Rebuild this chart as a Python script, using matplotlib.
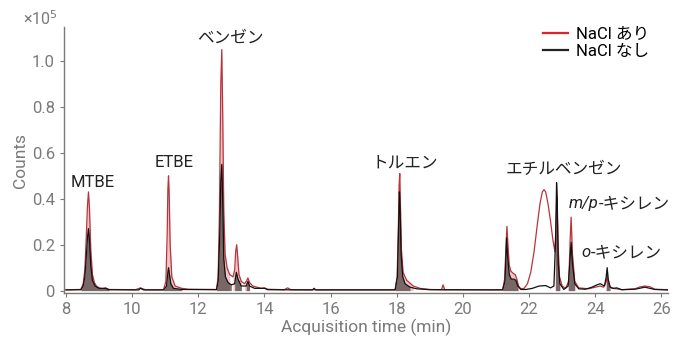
import matplotlib
matplotlib.use("Agg")
from matplotlib import pyplot as plt
from matplotlib.lines import Line2D
import numpy as np

plt.rcParams['font.family'] = ['Roboto', 'Noto Sans CJK JP', 'DejaVu Sans']

# chromatogram traces (time in min, counts in 1e5)
t_salt = [8.0, 8.45, 8.52, 8.57, 8.61, 8.65, 8.68, 8.71, 8.75, 8.80, 8.86, 8.92, 9.0, 9.1, 9.2, 9.3,
          10.1, 10.25, 10.4, 10.95, 11.02, 11.06, 11.08, 11.10, 11.12, 11.15, 11.2, 11.3, 11.5, 11.7,
          12.55, 12.60, 12.64, 12.68, 12.71, 12.74, 12.77, 12.81, 12.87, 12.95, 13.05, 13.10, 13.13,
          13.16, 13.19, 13.23, 13.3, 13.4, 13.45, 13.5, 13.55, 13.65, 13.9, 14.0, 14.1, 14.6, 14.7, 14.8,
          17.95, 18.01, 18.05, 18.07, 18.09, 18.11, 18.14, 18.19, 18.3, 18.5, 18.7, 19.0, 19.35,
          19.4, 19.45, 21.2, 21.26, 21.3, 21.33, 21.36, 21.40, 21.45, 21.52, 21.58, 21.63, 21.68,
          21.75, 21.85, 21.95, 22.05, 22.15, 22.25, 22.33, 22.40, 22.45, 22.50, 22.57, 22.65, 22.72,
          22.78, 22.82, 22.84, 22.87, 22.92, 23.0, 23.1, 23.2, 23.24, 23.27, 23.31, 23.38, 23.5,
          23.8, 24.0, 24.15, 24.25, 24.33, 24.36, 24.4, 24.5, 24.65, 24.8, 25.2, 25.35, 25.5,
          25.65, 25.8, 26.2]
c_salt = [0.004, 0.005, 0.03, 0.09, 0.22, 0.37, 0.43, 0.36, 0.18, 0.07, 0.035, 0.02, 0.012, 0.008, 0.012, 0.005,
          0.004, 0.012, 0.004, 0.004, 0.04, 0.25, 0.44, 0.50, 0.42, 0.20, 0.06, 0.02, 0.01, 0.006,
          0.005, 0.06, 0.35, 0.90, 1.05, 0.75, 0.35, 0.16, 0.10, 0.07, 0.06, 0.09, 0.17,
          0.20, 0.15, 0.07, 0.04, 0.03, 0.04, 0.055, 0.035, 0.02, 0.01, 0.012, 0.006, 0.004, 0.012, 0.004,
          0.004, 0.06, 0.30, 0.46, 0.51, 0.38, 0.18, 0.08, 0.045, 0.02, 0.01, 0.005, 0.004,
          0.025, 0.004, 0.004, 0.05, 0.19, 0.28, 0.20, 0.11, 0.085, 0.075, 0.07, 0.05, 0.02,
          0.008, 0.01, 0.03, 0.08, 0.17, 0.29, 0.38, 0.43, 0.44, 0.43, 0.38, 0.30, 0.22,
          0.17, 0.30, 0.41, 0.22, 0.06, 0.02, 0.01, 0.04, 0.22, 0.32, 0.16, 0.04, 0.012,
          0.008, 0.015, 0.02, 0.015, 0.04, 0.06, 0.025, 0.01, 0.008, 0.004, 0.008, 0.016, 0.02,
          0.017, 0.006, 0.004]

t_plain = [8.0, 8.45, 8.52, 8.57, 8.61, 8.65, 8.68, 8.71, 8.75, 8.80, 8.88, 9.0, 9.2, 9.3,
           10.2, 10.25, 10.35, 10.95, 11.04, 11.08, 11.10, 11.13, 11.17, 11.25, 11.5,
           12.55, 12.60, 12.65, 12.68, 12.71, 12.74, 12.77, 12.82, 12.9, 13.0, 13.1, 13.15, 13.2,
           13.3, 13.45, 13.5, 13.55, 13.7, 14.0, 14.1, 15.45, 15.5, 15.55,
           17.95, 18.02, 18.06, 18.08, 18.10, 18.13, 18.18, 18.25, 18.4, 18.6, 19.0,
           21.2, 21.27, 21.30, 21.32, 21.35, 21.40, 21.46, 21.54, 21.60, 21.66, 21.75, 21.9, 22.1,
           22.3, 22.5, 22.65, 22.75, 22.80, 22.83, 22.85, 22.88, 22.93, 23.05, 23.18, 23.23, 23.27,
           23.31, 23.38, 23.5, 23.7, 23.9, 24.05, 24.15, 24.28, 24.33, 24.36, 24.39, 24.45, 24.55, 24.65,
           24.8, 25.2, 25.5, 25.8, 26.2]
c_plain = [0.003, 0.004, 0.02, 0.06, 0.14, 0.23, 0.27, 0.22, 0.11, 0.045, 0.02, 0.01, 0.01, 0.004,
           0.003, 0.01, 0.003, 0.003, 0.02, 0.08, 0.10, 0.07, 0.03, 0.01, 0.005,
           0.004, 0.04, 0.25, 0.48, 0.55, 0.38, 0.14, 0.06, 0.035, 0.025, 0.03, 0.08, 0.05,
           0.02, 0.02, 0.04, 0.02, 0.01, 0.01, 0.004, 0.003, 0.01, 0.003,
           0.003, 0.06, 0.30, 0.43, 0.36, 0.16, 0.06, 0.03, 0.015, 0.008, 0.004,
           0.003, 0.04, 0.15, 0.23, 0.15, 0.07, 0.05, 0.05, 0.045, 0.02, 0.005, 0.005, 0.01,
           0.02, 0.022, 0.012, 0.02, 0.22, 0.47, 0.40, 0.12, 0.03, 0.005, 0.02, 0.12, 0.21,
           0.12, 0.03, 0.008, 0.006, 0.015, 0.025, 0.03, 0.02, 0.06, 0.10, 0.05, 0.015, 0.01, 0.012,
           0.004, 0.006, 0.015, 0.005, 0.003]

# integrated (shaded) peak windows
windows = [(8.45, 9.3), (10.95, 11.5), (12.55, 13.0), (13.05, 13.3), (13.4, 13.6),
           (17.95, 18.5), (19.35, 19.45), (21.2, 21.7), (22.76, 22.95),
           (23.15, 23.45), (24.3, 24.45)]

labels = [("MTBE", 8.82, 0.47), ("ETBE", 11.27, 0.556), ("ベンゼン", 12.96, 1.10),
          ("トルエン", 18.25, 0.556), ("エチルベンゼン", 23.06, 0.526)]
# (italic prefix, rest, split position, y)
xylene_labels = [("m/p", "-キシレン", 24.1, 0.378), ("o", "-キシレン", 23.85, 0.165)]

red = '#e0232b'
gray = '#7a7a7a'
ink = '#222222'

fig = plt.figure(figsize=(6.88, 3.43), dpi=100)
ax = fig.add_axes([0.093, 0.146, 0.878, 0.775])

ts, cs = np.array(t_salt), np.array(c_salt)
tp, cp = np.array(t_plain), np.array(c_plain)
for a, b in windows:
    m = (ts >= a) & (ts <= b)
    ax.fill_between(ts[m], cs[m], color='#d9545c', alpha=0.35, lw=0)
    m = (tp >= a) & (tp <= b)
    ax.fill_between(tp[m], cp[m], color='#2a2a2a', alpha=0.6, lw=0)

ax.plot(ts, cs, color='#b8343c', lw=0.9)
ax.plot(tp, cp, color='#111111', lw=0.9)

handles = [Line2D([], [], color=red, lw=1.6), Line2D([], [], color=ink, lw=1.6)]
ax.legend(handles, ['NaCl あり', 'NaCl なし'], loc='upper right', frameon=False,
          fontsize=12, handlelength=1.5, handletextpad=0.5, labelspacing=0.15,
          borderaxespad=0.2, bbox_to_anchor=(0.985, 1.04))

for txt, x, y in labels:
    ax.text(x, y, txt, ha='center', va='center', fontsize=12, color=ink)
for it, rest, x, y in xylene_labels:
    ax.text(x, y, it, ha='right', va='center', fontsize=12, color=ink, style='italic')
    ax.text(x, y, rest, ha='left', va='center', fontsize=12, color=ink)

ax.set_xlim(7.94, 26.2)
ax.set_ylim(-0.01, 1.148)
ax.set_xticks(range(8, 27, 2))
ax.set_yticks([0, 0.2, 0.4, 0.6, 0.8, 1.0])
ax.set_yticklabels(['0', '0.2', '0.4', '0.6', '0.8', '1.0'])
for s in ['top', 'right']:
    ax.spines[s].set_visible(False)
for s in ['left', 'bottom']:
    ax.spines[s].set_color(gray)
    ax.spines[s].set_linewidth(1.0)
ax.tick_params(colors=gray, labelsize=12, length=3, width=0.8, labelcolor=gray)
ax.set_xlabel('Acquisition time (min)', fontsize=12.5, color=gray, labelpad=1)
ax.set_ylabel('Counts', fontsize=12.5, color=gray, labelpad=3)
fig.text(0.058, 0.945, '×10$^5$', fontsize=11.5, color=gray, ha='center', va='center')

fig.savefig('out.png', dpi=100)
